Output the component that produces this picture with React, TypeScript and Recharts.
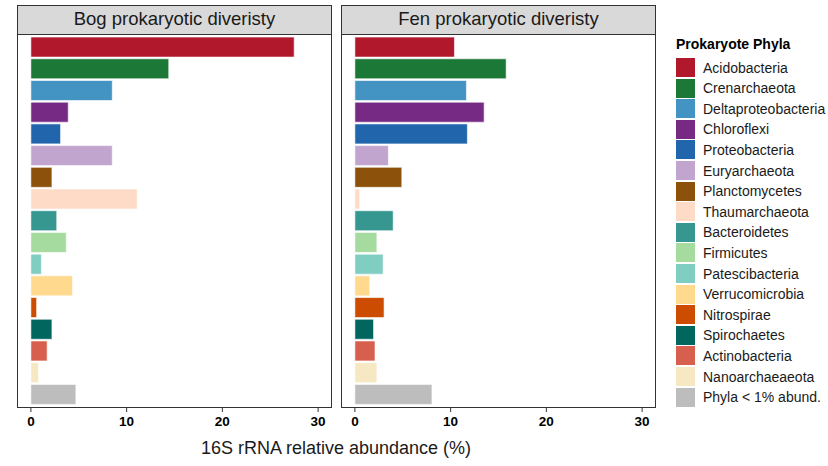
import React from "react";
import { BarChart, Bar, XAxis, YAxis, Cell } from "recharts";

const phyla = [
  "Acidobacteria",
  "Crenarchaeota",
  "Deltaproteobacteria",
  "Chloroflexi",
  "Proteobacteria",
  "Euryarchaeota",
  "Planctomycetes",
  "Thaumarchaeota",
  "Bacteroidetes",
  "Firmicutes",
  "Patescibacteria",
  "Verrucomicrobia",
  "Nitrospirae",
  "Spirochaetes",
  "Actinobacteria",
  "Nanoarchaeaeota",
  "Phyla < 1% abund.",
];

const bogValues = [27.5, 14.4, 8.5, 3.9, 3.1, 8.5, 2.2, 11.1, 2.7, 3.7, 1.1, 4.35, 0.6, 2.2, 1.7, 0.8, 4.7];
const fenValues = [10.4, 15.8, 11.65, 13.5, 11.75, 3.5, 4.9, 0.5, 4.0, 2.3, 2.95, 1.55, 3.05, 1.95, 2.1, 2.3, 8.05];

const colors = [
  "#B2182B", "#1B7837", "#4393C3", "#762A83", "#2166AC", "#C2A5CF",
  "#8C510A", "#FDDBC7", "#35978F", "#A6DBA0", "#80CDC1", "#FED98E",
  "#CC4C02", "#01665E", "#D6604D", "#F6E8C3", "#BDBDBD",
];

const xTicks = [0, 10, 20, 30];

const data = phyla.map((name, i) => ({ name, bog: bogValues[i], fen: fenValues[i] }));

const font = "'Liberation Sans', Arial, sans-serif";

const Panel = (props: { left: number; title: string; dataKey: string }) => {
  const { left, title, dataKey } = props;
  return (
    <div style={{ position: "absolute", left, top: 0, width: 340, height: 466 }}>
      <BarChart
        width={340}
        height={466}
        data={data}
        layout="vertical"
        margin={{ top: 33, right: 8, left: 17, bottom: 28 }}
        barCategoryGap="5%"
      >
        <XAxis
          type="number"
          domain={[-1.45, 31.45]}
          ticks={xTicks}
          allowDataOverflow
          height={30}
          axisLine={false}
          tickLine={{ stroke: "#333", strokeWidth: 1 }}
          tickSize={4}
          tickMargin={4}
          tick={{ fill: "#000", fontSize: 13.5, fontWeight: "bold", fontFamily: font }}
        />
        <YAxis type="category" dataKey="name" hide padding={{ top: 3, bottom: 3 }} />
        <Bar dataKey={dataKey} isAnimationActive={false} stroke="#ffffff" strokeWidth={0.6}>
          {data.map((d, i) => (
            <Cell key={d.name} fill={colors[i]} />
          ))}
        </Bar>
      </BarChart>
      <div
        style={{
          position: "absolute", left: 17, top: 33, width: 315, height: 375,
          border: "1.5px solid #333", boxSizing: "border-box", pointerEvents: "none",
        }}
      />
      <div
        style={{
          position: "absolute", left: 17, top: 5, width: 315, height: 29.5,
          background: "#D9D9D9", border: "1.5px solid #333", boxSizing: "border-box",
          fontFamily: font, fontSize: 18.5, color: "#1a1a1a", textAlign: "center", lineHeight: "26px",
        }}
      >
        {title}
      </div>
    </div>
  );
};

export default function App() {
  return (
    <div style={{ position: "absolute", left: 0, top: 0, width: 828, height: 466, background: "#fff", fontFamily: font }}>
      <Panel left={0} title="Bog prokaryotic diveristy" dataKey="bog" />
      <Panel left={324} title="Fen prokaryotic diveristy" dataKey="fen" />
      <div
        style={{
          position: "absolute", left: 17, width: 638, top: 437, textAlign: "center",
          fontSize: 18, lineHeight: "22px", color: "#1a1a1a",
        }}
      >
        16S rRNA relative abundance (%)
      </div>
      <div style={{ position: "absolute", left: 676, top: 36, fontSize: 14, fontWeight: "bold", color: "#000" }}>
        Prokaryote Phyla
      </div>
      {phyla.map((p, i) => (
        <div key={p} style={{ position: "absolute", left: 676, top: 58 + i * 20.6, height: 19, display: "flex", alignItems: "center" }}>
          <div style={{ width: 19, height: 19, background: colors[i] }} />
          <span style={{ marginLeft: 8, fontSize: 14, color: "#1a1a1a" }}>{p}</span>
        </div>
      ))}
    </div>
  );
}
